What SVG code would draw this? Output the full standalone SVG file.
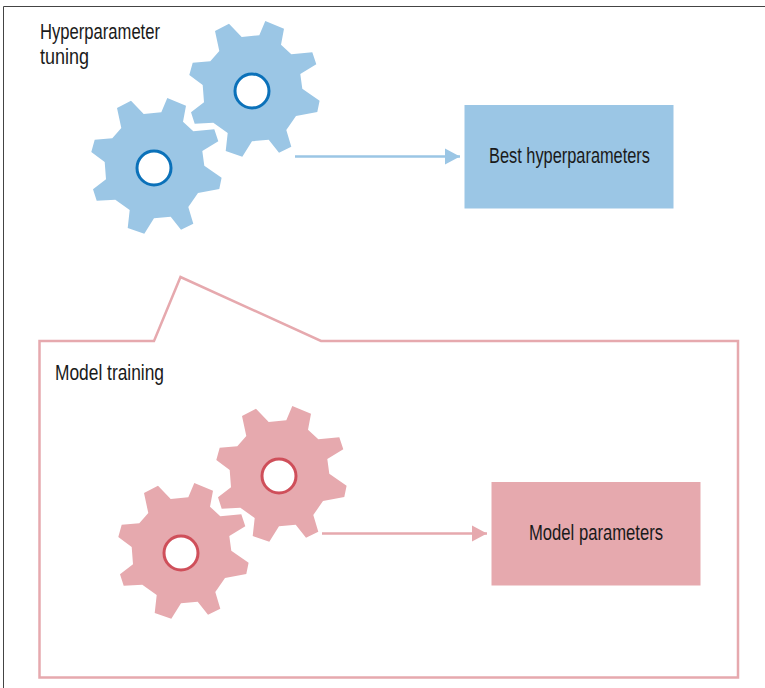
<svg xmlns="http://www.w3.org/2000/svg" width="765" height="688" viewBox="0 0 765 688">
<style>
text{font-family:"Liberation Sans Narrow","Liberation Sans",sans-serif;font-size:22px;fill:#1a1a1a}
.b{fill:#9bc6e5}.r{fill:#e6a9ae}
.hb{fill:#fff;stroke:#0b71b9;stroke-width:3}
.hr{fill:#fff;stroke:#cf4f5a;stroke-width:3}
.lb{stroke:#9bc6e5;stroke-width:2.500;fill:none}
.lr{stroke:#e6a9ae;stroke-width:2.500;fill:none}
</style>
<defs>
<polygon id="gear" points="-37,-60 -23,-67.300 -10.300,-54 7.300,-55.700 13.300,-70 32,-62.300 29,-46.300 39.300,-36.700 60.300,-38.700 64.300,-26.700 48.300,-17 50.300,-2.300 67.600,9.700 65.300,21 44,25 34.300,39 39.300,55.700 27,61.700 16.700,48.700 0,50.300 -9.700,65.700 -26.300,60 -24.300,42 -38.700,31.700 -57.300,32.700 -61,21.300 -48,11.300 -49.300,-6 -62.700,-16 -59.300,-28.300 -41.700,-29.700 -32.700,-40"/>
<marker id="ab" markerUnits="userSpaceOnUse" markerWidth="16" markerHeight="18" refX="15" refY="9" orient="auto"><path d="M0,1L15,9L0,17Z" fill="#9bc6e5"/></marker>
<marker id="ar" markerUnits="userSpaceOnUse" markerWidth="16" markerHeight="18" refX="15" refY="9" orient="auto"><path d="M0,1L15,9L0,17Z" fill="#e6a9ae"/></marker>
</defs>
<path d="M765,6.500H3.500V688" fill="none" stroke="#444" stroke-width="1"/>
<g id="model-training-frame">
<path class="lr" d="M39.500,341H154L180.500,277L321,341H738V677.500H39.500Z"/>
<text x="55" y="380" textLength="109" lengthAdjust="spacingAndGlyphs">Model training</text>
</g>
<g id="hyperparameter-tuning-label">
<text x="40" y="39" textLength="120" lengthAdjust="spacingAndGlyphs">Hyperparameter</text>
<text x="40" y="64" textLength="49" lengthAdjust="spacingAndGlyphs">tuning</text>
</g>
<g id="gear-blue-1"><use href="#gear" class="b" x="252" y="91"/><circle class="hb" cx="252" cy="91" r="17"/></g>
<g id="gear-blue-2"><use href="#gear" class="b" x="154" y="168"/><circle class="hb" cx="154" cy="168" r="17"/></g>
<g id="best-hyperparameters"><rect class="b" x="464.500" y="105" width="209" height="103.500"/><text x="489" y="163" textLength="161" lengthAdjust="spacingAndGlyphs">Best hyperparameters</text></g>
<g id="gear-red-1"><use href="#gear" class="r" x="279" y="476"/><circle class="hr" cx="279" cy="476" r="17"/></g>
<g id="gear-red-2"><use href="#gear" class="r" x="181" y="553"/><circle class="hr" cx="181" cy="553" r="17"/></g>
<g id="model-parameters"><rect class="r" x="491.500" y="482" width="209" height="103.500"/><text x="529" y="540" textLength="134" lengthAdjust="spacingAndGlyphs">Model parameters</text></g>
<g id="connectors">
<line class="lb" x1="295" y1="156.500" x2="460" y2="156.500" marker-end="url(#ab)"/>
<line class="lr" x1="322" y1="533.500" x2="487" y2="533.500" marker-end="url(#ar)"/>
</g>
</svg>
